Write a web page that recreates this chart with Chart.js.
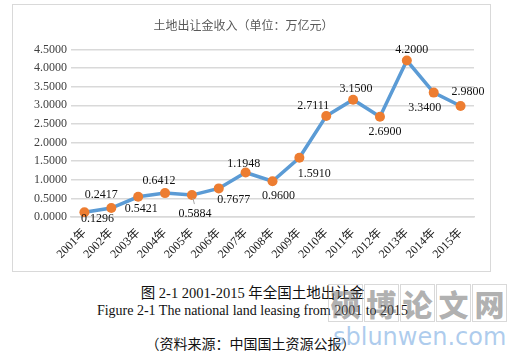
<!DOCTYPE html>
<html><head><meta charset="utf-8">
<script src="https://cdn.jsdelivr.net/npm/chart.js@4"></script>
<style>
html,body{margin:0;padding:0;background:#fff;width:517px;height:357px;overflow:hidden;position:relative;}
#box{position:absolute;left:12px;top:4px;width:477px;height:266px;border:1px solid #d9d9d9;}
#box canvas{position:absolute;left:0;top:0;}
.cap{position:absolute;left:0;width:505px;text-align:center;font-family:"Liberation Serif","Noto Sans CJK SC",serif;font-size:14px;color:#111;white-space:nowrap;}
.wm{position:absolute;left:328px;top:284px;display:flex;gap:1px;}
.wm span{display:block;width:33px;height:36px;border:1px solid rgba(180,180,180,0.5);font-family:"Noto Sans CJK SC";font-weight:900;font-size:30px;line-height:36px;text-align:center;color:rgba(110,110,110,0.55);}
.wm2{position:absolute;left:333px;top:323px;font-family:"DejaVu Sans",sans-serif;font-size:24px;color:rgba(120,170,225,0.6);}
</style></head>
<body>
<div id="box"><canvas id="c" width="477" height="266"></canvas></div>
<div class="cap" style="top:281px;font-size:14.5px;">图 2-1 2001-2015 年全国土地出让金</div>
<div class="cap" style="top:303px;">Figure 2-1 The national land leasing from 2001 to 2015</div>
<div class="cap" style="top:333px;left:-2px;">（资料来源：中国国土资源公报）</div>
<div class="wm"><span>硕</span><span>博</span><span>论</span><span>文</span><span>网</span></div>
<div class="wm2">sblunwen.com</div>
<script>
const categories = ["2001年","2002年","2003年","2004年","2005年","2006年","2007年","2008年","2009年","2010年","2011年","2012年","2013年","2014年","2015年"];
const revenue = [0.1296,0.2417,0.5421,0.6412,0.5884,0.7677,1.1948,0.9600,1.5910,2.7111,3.1500,2.6900,4.2000,3.3400,2.9800];
const chartTitle = "土地出让金收入（单位：万亿元）";
const yMin = 0, yMax = 4.5, yStep = 0.5;

// label offsets from each point (dx, dy) in pixels
const labelOffsets = [[13,7],[-10,-13.5],[3,12],[-6,-12],[3,19],[15,11],[-2,-8.5],[6,15],[15,16],[-13,-10],[3,-11],[5,15],[5,-11],[-9,15],[7.5,-14]];

const labelPlugin = {
  id:'pointLabels',
  afterDatasetsDraw(chart){
    const ctx = chart.ctx;
    const meta = chart.getDatasetMeta(0);
    ctx.save();
    ctx.font = '12px "Liberation Serif", serif';
    ctx.fillStyle = '#111';
    ctx.textAlign = 'center';
    ctx.textBaseline = 'middle';
    meta.data.forEach((pt,i)=>{
      const [dx,dy] = labelOffsets[i];
      if(i===4){
        ctx.strokeStyle='#a6a6a6';ctx.lineWidth=1;
        ctx.beginPath();ctx.moveTo(pt.x+1,pt.y+3);ctx.lineTo(pt.x+2.5,pt.y+9);ctx.stroke();
      }
      ctx.fillText(revenue[i].toFixed(4), pt.x+dx, pt.y+dy);
    });
    ctx.restore();
  }
};

new Chart(document.getElementById('c'),{
  type:'line',
  data:{labels:categories,datasets:[{
    data:revenue,borderColor:'#5B9BD5',borderWidth:3.5,
    pointBackgroundColor:'#ED7D31',pointBorderColor:'#ED7D31',pointRadius:5,pointBorderWidth:0,
    tension:0,fill:false
  }]},
  options:{
    responsive:false,animation:false,devicePixelRatio:1,
    layout:{padding:{left:0,right:16,top:0,bottom:0}},
    plugins:{
      legend:{display:false},tooltip:{enabled:false},
      title:{display:true,text:chartTitle,color:'#595959',
        font:{family:'"Noto Sans CJK SC"',size:12,weight:'normal',lineHeight:1.2},
        padding:{top:13,bottom:17}}
    },
    scales:{
      x:{offset:true,grid:{display:false,drawTicks:false},border:{display:true,color:'#d9d9d9',width:1.5},
        ticks:{color:'#222',font:{family:'"Liberation Serif","Noto Sans CJK SC",serif',size:12},
          minRotation:45,maxRotation:45,padding:9,autoSkip:false},
        afterFit(s){s.height=54;}
      },
      y:{min:yMin,max:yMax,
        grid:{color:'#d9d9d9',lineWidth:1.5,drawTicks:false},border:{display:false},
        ticks:{stepSize:yStep,color:'#404040',padding:4,font:{family:'"Liberation Serif",serif',size:12},
          callback:v=>Number(v).toFixed(4)},
        afterFit(s){s.width=58;}
      }
    }
  },
  plugins:[labelPlugin]
});
</script>
</body></html>
